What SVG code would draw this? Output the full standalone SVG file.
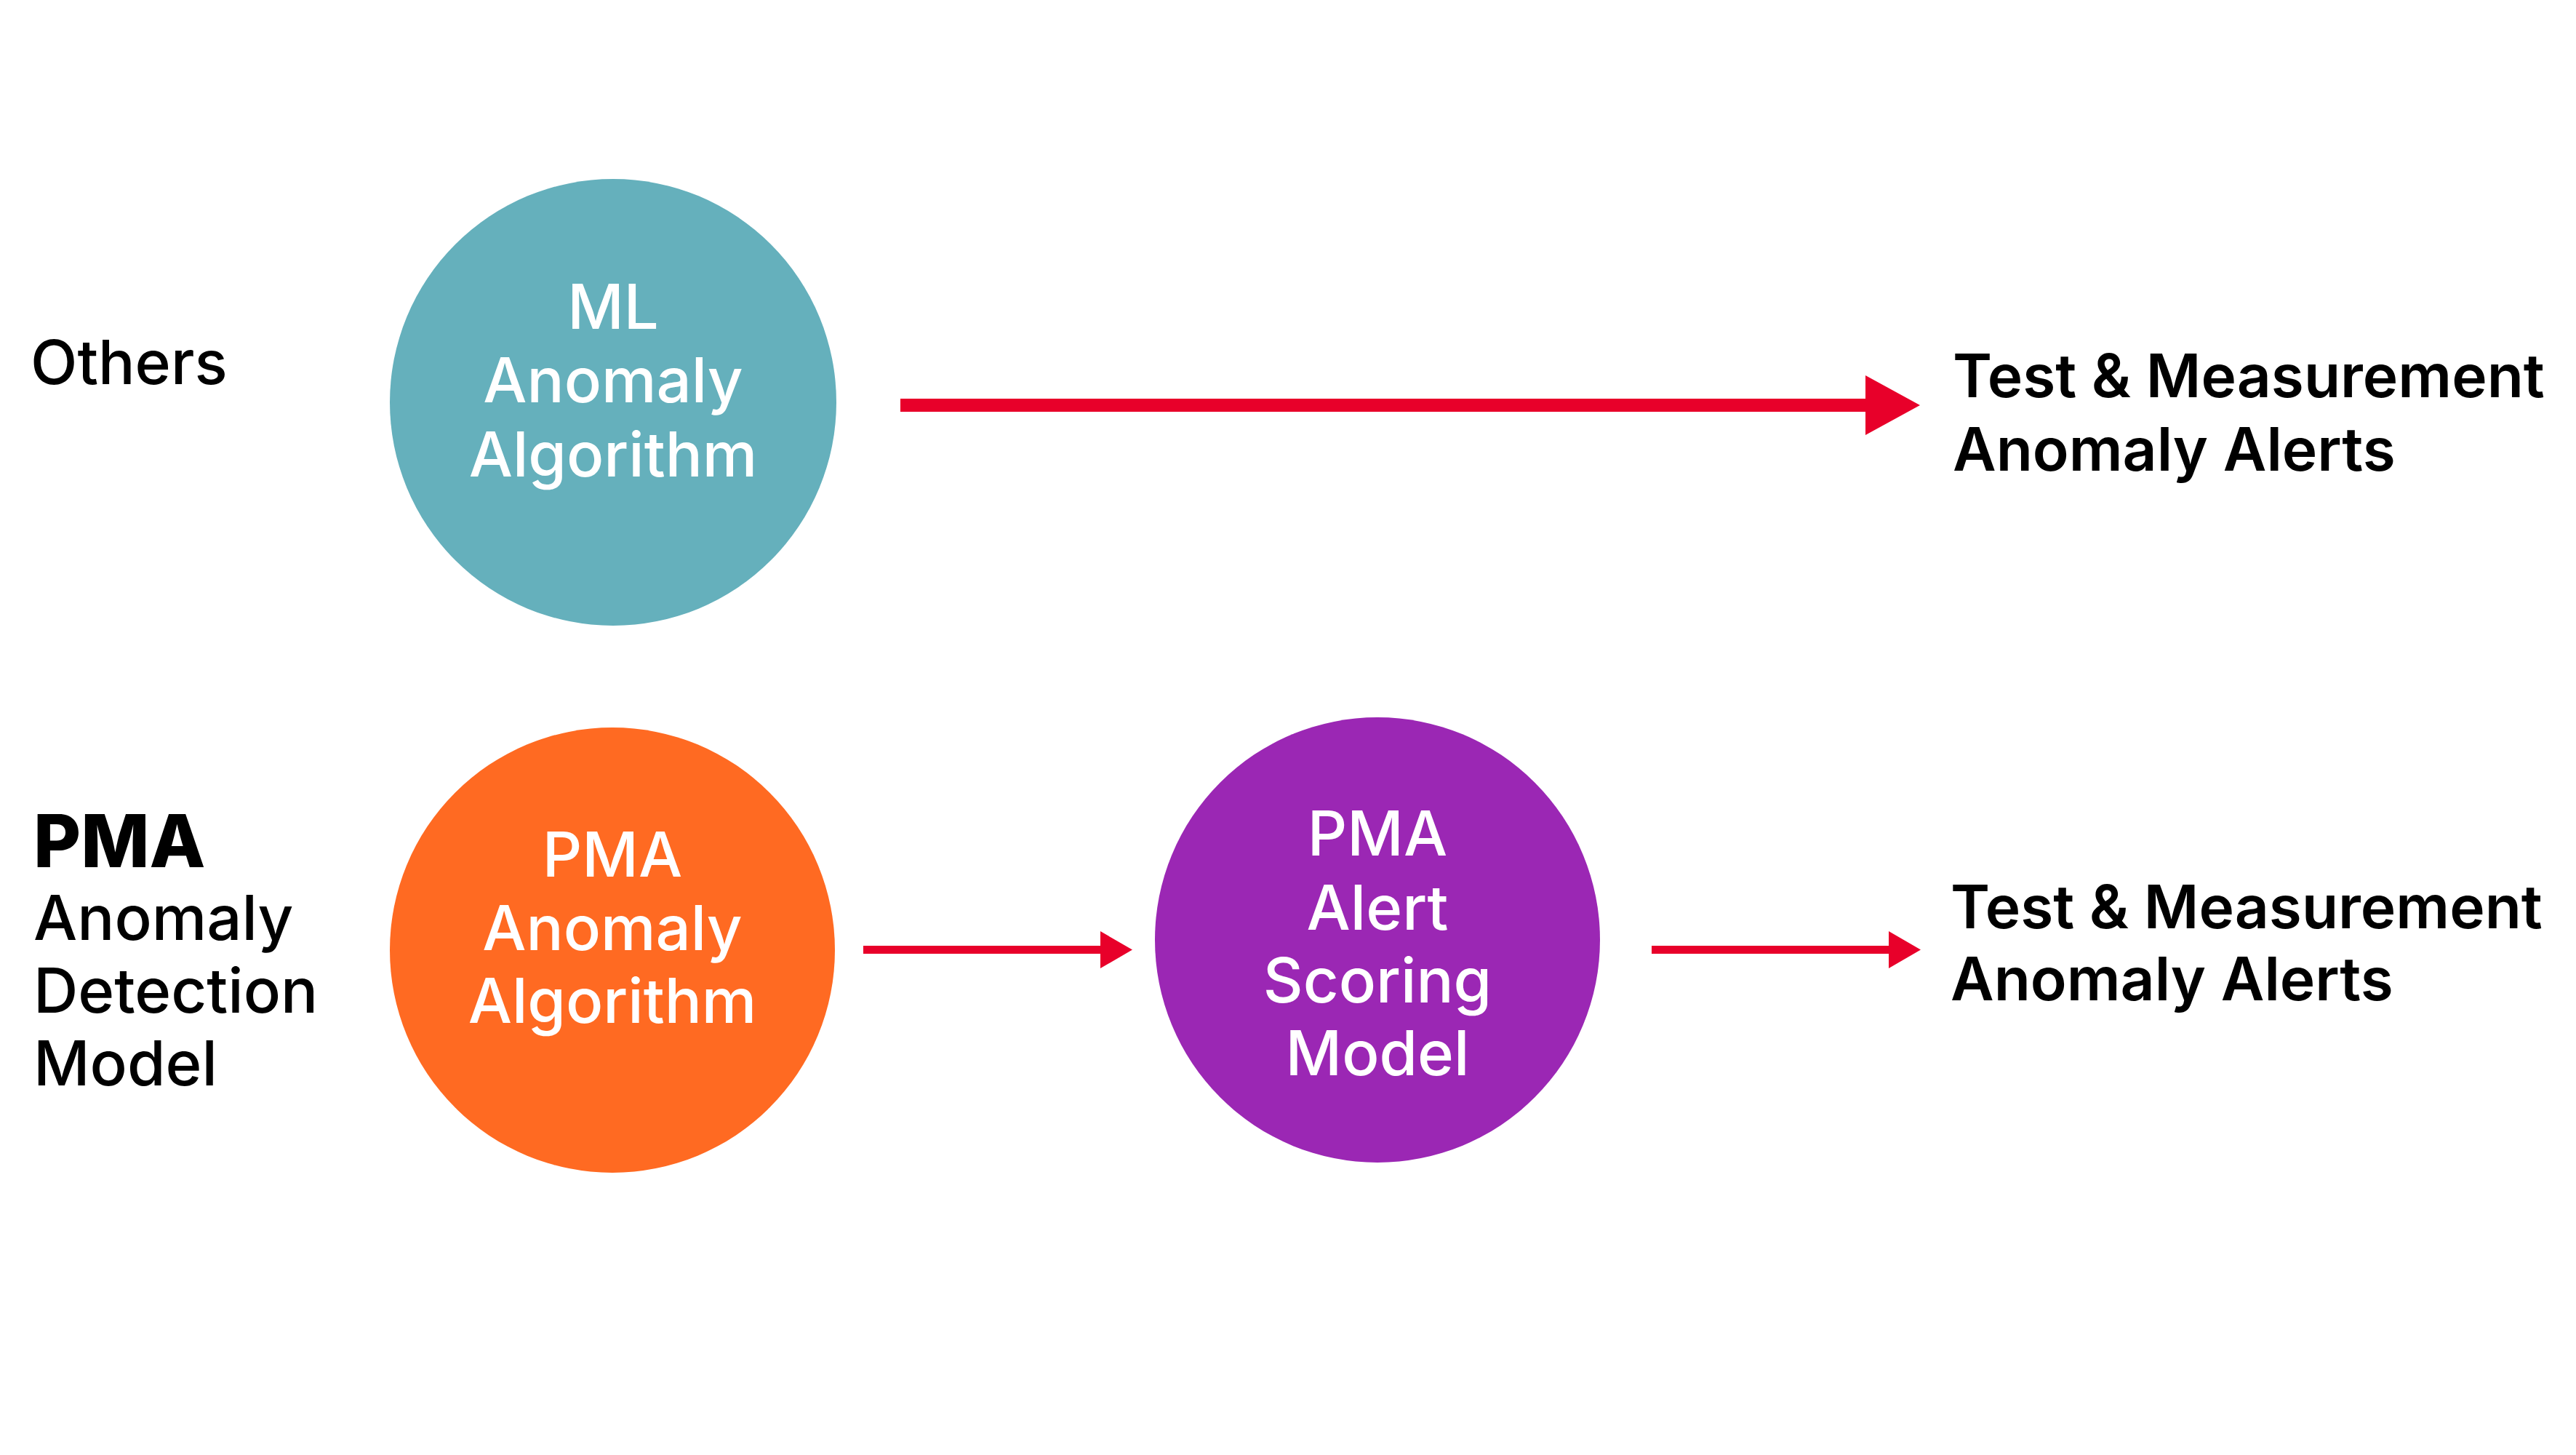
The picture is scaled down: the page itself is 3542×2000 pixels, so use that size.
<svg xmlns="http://www.w3.org/2000/svg" width="3542" height="2000" viewBox="0 0 3542 2000">
<style>
.node-text{font-family:Inter,"Noto Sans","Liberation Sans",sans-serif;font-weight:500;font-size:85px;fill:#ffffff;text-anchor:middle}
.label{font-family:Inter,"Noto Sans","Liberation Sans",sans-serif;font-weight:500;font-size:85px;fill:#000000}
.out{font-family:Inter,"Noto Sans","Liberation Sans",sans-serif;font-weight:600;font-size:82px;fill:#000000}
.conn{fill:#E8002A}
</style>
<rect x="0" y="0" width="3542" height="2000" fill="#ffffff"/>
<g id="label-others">
<text class="label" x="42" y="528" style="font-size:84px">Others</text>
</g>
<g id="label-pma">
<text class="label" x="46" y="1192" style="font-weight:800;font-size:100px">PMA</text>
<text class="label" x="46" y="1292">Anomaly</text>
<text class="label" x="46" y="1392">Detection</text>
<text class="label" x="46" y="1492">Model</text>
</g>
<g id="node-ml">
<circle cx="843" cy="553" r="307" fill="#65B0BC"/>
<text class="node-text" x="843" y="452">ML</text>
<text class="node-text" x="843" y="553">Anomaly</text>
<text class="node-text" x="843" y="655">Algorithm</text>
</g>
<g id="node-pma-algo">
<circle cx="842" cy="1306" r="306" fill="#FF6A22"/>
<text class="node-text" x="842" y="1205">PMA</text>
<text class="node-text" x="842" y="1306">Anomaly</text>
<text class="node-text" x="842" y="1406">Algorithm</text>
</g>
<g id="node-pma-scoring">
<circle cx="1894" cy="1292" r="306" fill="#9B27B4"/>
<text class="node-text" x="1894" y="1176">PMA</text>
<text class="node-text" x="1894" y="1278">Alert</text>
<text class="node-text" x="1894" y="1378">Scoring</text>
<text class="node-text" x="1894" y="1478">Model</text>
</g>
<g id="out-top">
<text class="out" x="2685" y="546">Test &amp; Measurement</text>
<text class="out" x="2685" y="647">Anomaly Alerts</text>
</g>
<g id="out-bottom">
<text class="out" x="2682" y="1276">Test &amp; Measurement</text>
<text class="out" x="2682" y="1375">Anomaly Alerts</text>
</g>
<g id="connectors">
<polygon class="conn" points="1238,548 2565,548 2565,516 2640,557 2565,598 2565,566 1238,566"/>
<polygon class="conn" points="1187,1300 1513,1300 1513,1280 1557,1305.5 1513,1331 1513,1311 1187,1311"/>
<polygon class="conn" points="2271,1300 2597,1300 2597,1280 2641,1305.5 2597,1331 2597,1311 2271,1311"/>
</g>
</svg>
